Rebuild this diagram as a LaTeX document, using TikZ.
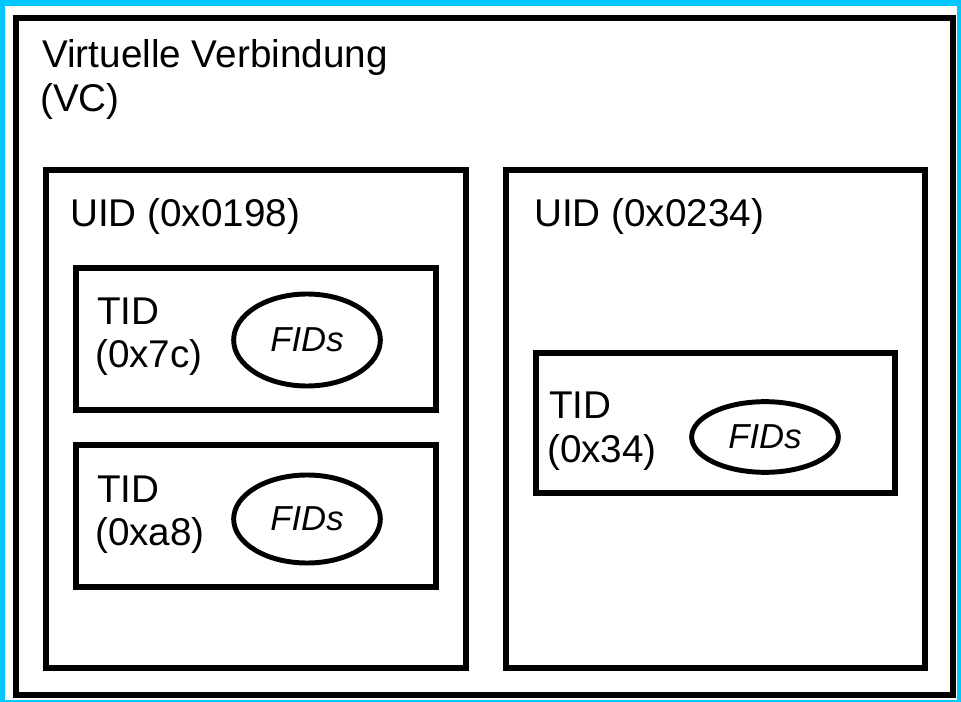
\documentclass[tikz,border=0pt]{standalone}
\usepackage{fontspec}
\setmainfont{Liberation Sans}
\usepackage{tikz}
\usetikzlibrary{shapes.geometric}
\usetikzlibrary{positioning}
\definecolor{framecyan}{RGB}{0,200,255}

\begin{document}
\begin{tikzpicture}[x=0.75pt, y=-0.75pt, line join=miter,
    box/.style = {draw, line width=4.5pt},
    lbl/.style = {anchor=base west, inner sep=0pt, font=\fontsize{29}{33}\selectfont},
    fids/.style = {draw, ellipse, line width=3.7pt, inner sep=0pt, minimum width=110pt,
        font=\fontsize{26}{30}\selectfont\itshape}]
    \fill[framecyan] (0,0) rectangle (961,702);
    \fill[white] (5,6) rectangle (957,700);
    \useasboundingbox (0,0) rectangle (961,702);

    \draw[box] (16,18) rectangle (953,695);
    \node[lbl] (vc1) at (42,68) {Virtuelle Verbindung};
    \node[lbl] (vc2) at (40,112) {(VC)};

    \draw[box] (46,170) rectangle (466,668);
    \node[lbl] (uidA) at (70,227) {UID (0x0198)};
    \draw[box] (506,170) rectangle (925,668);
    \node[lbl] (uidB) at (534,227) {UID (0x0234)};

    \draw[box] (76,268) rectangle (436,410);
    \node[lbl] (tidA1) at (97,325) {TID};
    \node[lbl] (tidA2) at (95,368) {(0x7c)};
    \node[fids, minimum height=69pt] (fidsA) at (307,340) {FIDs};

    \draw[box] (76,445) rectangle (436,587);
    \node[lbl] (tidB1) at (97,502) {TID};
    \node[lbl] (tidB2) at (95,545) {(0xa8)};
    \node[fids, minimum height=66pt] (fidsB) at (307,519) {FIDs};

    \draw[box] (536,353) rectangle (895,493);
    \node[lbl] (tidC1) at (549,418) {TID};
    \node[lbl] (tidC2) at (547,462) {(0x34)};
    \node[fids, minimum height=53pt] (fidsC) at (765,437) {FIDs};
\end{tikzpicture}
\end{document}
